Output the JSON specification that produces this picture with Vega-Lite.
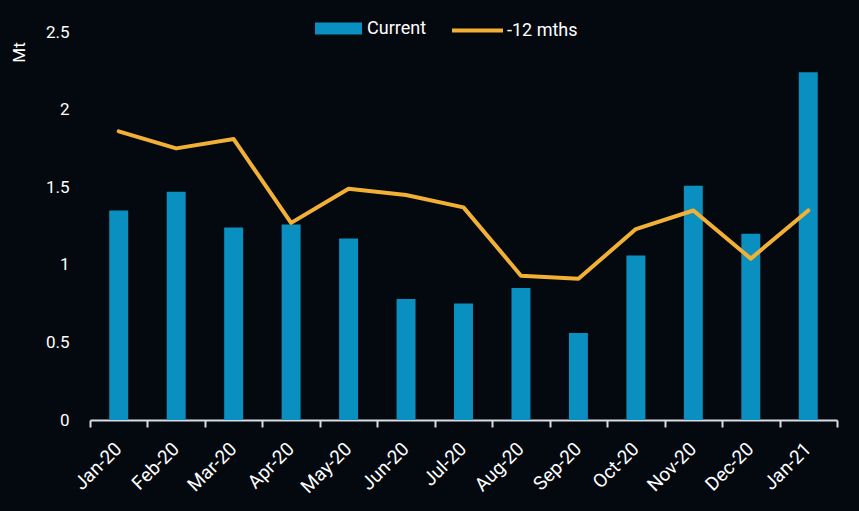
{
  "$schema": "https://vega.github.io/schema/vega-lite/v6.json",
  "width": 747,
  "height": 388,
  "autosize": {"type": "none"},
  "padding": {"left": 90, "top": 32, "right": 22, "bottom": 91},
  "background": "#04080f",
  "config": {"view": {"stroke": null}, "font": "Roboto"},
  "data": {
    "values": [
      {"month": "Jan-20", "current": 1.35, "prev": 1.86},
      {"month": "Feb-20", "current": 1.47, "prev": 1.75},
      {"month": "Mar-20", "current": 1.24, "prev": 1.81},
      {"month": "Apr-20", "current": 1.26, "prev": 1.27},
      {"month": "May-20", "current": 1.17, "prev": 1.49},
      {"month": "Jun-20", "current": 0.78, "prev": 1.45},
      {"month": "Jul-20", "current": 0.75, "prev": 1.37},
      {"month": "Aug-20", "current": 0.85, "prev": 0.93},
      {"month": "Sep-20", "current": 0.56, "prev": 0.91},
      {"month": "Oct-20", "current": 1.06, "prev": 1.23},
      {"month": "Nov-20", "current": 1.51, "prev": 1.35},
      {"month": "Dec-20", "current": 1.2, "prev": 1.04},
      {"month": "Jan-21", "current": 2.24, "prev": 1.35}
    ]
  },
  "encoding": {
    "x": {
      "field": "month", "type": "nominal", "sort": null,
      "scale": {"paddingInner": 0, "paddingOuter": 0},
      "axis": {
        "title": null, "tickBand": "extent",
        "domainColor": "#d9dde3", "domainWidth": 2,
        "tickColor": "#d9dde3", "tickWidth": 2, "tickSize": 7,
        "labelAngle": -45, "labelColor": "#ffffff", "labelFontSize": 19,
        "labelPadding": 12, "labelOffset": -7
      }
    }
  },
  "layer": [
    {
      "mark": {"type": "bar", "width": {"band": 0.33}},
      "encoding": {
        "y": {
          "field": "current", "type": "quantitative",
          "scale": {"domain": [0, 2.5], "nice": false},
          "axis": {
            "values": [0, 0.5, 1, 1.5, 2, 2.5], "format": "~g",
            "domain": false, "ticks": false, "grid": false,
            "labelPadding": 21, "labelColor": "#ffffff", "labelFontSize": 17,
            "title": "Mt", "titleColor": "#ffffff", "titleFontSize": 17,
            "titleFontWeight": "normal", "titleAngle": -90,
            "titleX": -71, "titleY": 20, "titleAlign": "center", "titleBaseline": "middle"
          }
        },
        "fill": {
          "datum": "Current", "type": "nominal",
          "scale": {"range": ["#0a90c0"]},
          "legend": {
            "title": null, "orient": "none", "legendX": 225, "legendY": -27,
            "direction": "horizontal",
            "symbolType": "M-1,-0.255H1V0.255H-1Z", "symbolSize": 2209,
            "symbolStrokeWidth": 0,
            "labelColor": "#ffffff", "labelFontSize": 18, "labelOffset": 5
          }
        }
      }
    },
    {
      "mark": {"type": "line", "strokeWidth": 4, "strokeCap": "round", "strokeJoin": "round"},
      "encoding": {
        "y": {"field": "prev", "type": "quantitative", "scale": {"domain": [0, 2.5], "nice": false}},
        "stroke": {
          "datum": "-12 mths", "type": "nominal",
          "scale": {"range": ["#f2b134"]},
          "legend": {
            "title": null, "orient": "none", "legendX": 360, "legendY": -29,
            "direction": "horizontal",
            "symbolType": "stroke", "symbolSize": 2601, "symbolStrokeWidth": 4,
            "labelColor": "#ffffff", "labelFontSize": 18, "labelOffset": 2
          }
        }
      }
    }
  ]
}
